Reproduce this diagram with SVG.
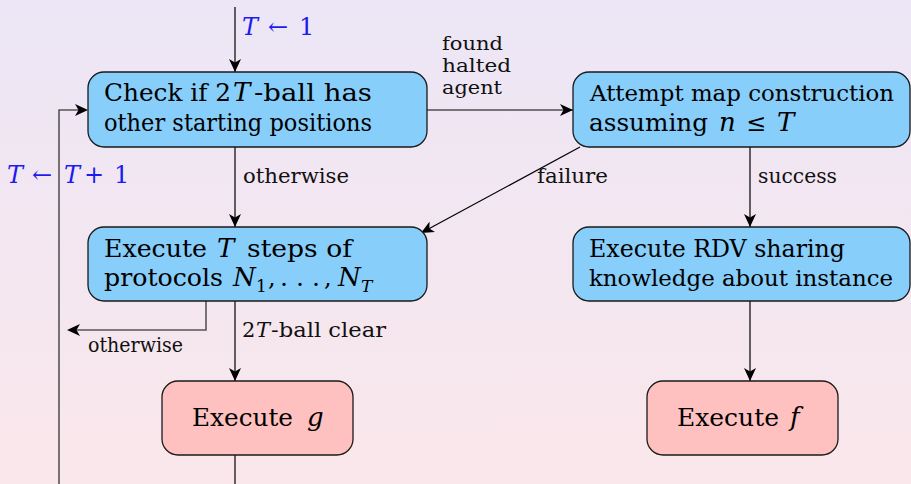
<svg xmlns="http://www.w3.org/2000/svg" width="911" height="484" viewBox="0 0 911 484">
  <defs>
    <linearGradient id="bg" x1="0" y1="0" x2="0" y2="1">
      <stop offset="0" stop-color="#ece6f6"/>
      <stop offset="1" stop-color="#fae7eb"/>
    </linearGradient>
    <marker id="arr" markerUnits="userSpaceOnUse" markerWidth="14" markerHeight="12" refX="13" refY="6" orient="auto">
      <path d="M0,0 L13,6 L0,12 L3.5,6 Z" fill="#000"/>
    </marker>
    <style>
      .blue { fill: #87cefa; stroke: #1a1a1a; stroke-width: 1.3; }
      .pink { fill: #ffc0c0; stroke: #1a1a1a; stroke-width: 1.3; }
      .nt { font-size: 24px; fill: #000; }
      .ns { font-size: 23px; fill: #000; }
      .mi { font-size: 26px; fill: #000; font-style: italic; }
      .sub { font-size: 17px; fill: #000; }
      .et { font-size: 21px; fill: #111; }
      .st { font-size: 18.5px; fill: #111; }
      .mt { font-size: 24px; fill: #1c1cf0; }
      .m { font-style: italic; }
      .edge { fill: none; stroke: #000; stroke-width: 1.2; }
      .loop { fill: none; stroke: #555; stroke-width: 1.6; }
    </style>
  </defs>

  <rect x="0" y="0" width="911" height="484" fill="url(#bg)"/>

  <g font-family="DejaVu Serif, Liberation Serif, Noto Serif, serif">
  <!-- connectors -->
  <g id="connectors">
    <line class="edge" x1="235" y1="7" x2="235" y2="72" marker-end="url(#arr)"/>
    <line class="edge" x1="235" y1="147" x2="235" y2="227" marker-end="url(#arr)"/>
    <line class="edge" x1="427" y1="110" x2="573" y2="110" marker-end="url(#arr)"/>
    <line class="edge" x1="580" y1="147" x2="421" y2="233" marker-end="url(#arr)"/>
    <line class="edge" x1="750" y1="147" x2="750" y2="227" marker-end="url(#arr)"/>
    <polyline class="loop" points="206,301 206,330 72,330"/>
    <path d="M67,330 L80,324 L76.5,330 L80,336 Z" fill="#000"/>
    <line class="edge" x1="235" y1="301" x2="235" y2="381" marker-end="url(#arr)"/>
    <line class="edge" x1="750" y1="301" x2="750" y2="381" marker-end="url(#arr)"/>
    <line class="edge" x1="235" y1="455" x2="235" y2="484"/>
    <polyline class="loop" points="59,484 59,110 80,110"/>
    <path d="M88,110 L75,104 L78.5,110 L75,116 Z" fill="#000"/>

    <!-- edge labels -->
    <text class="mt m" x="242" y="35">T</text>
    <text class="mt" x="268" y="35">←</text>
    <text class="mt" x="299" y="35">1</text>

    <text class="st" x="442" y="50" textLength="61" lengthAdjust="spacingAndGlyphs">found</text>
    <text class="st" x="442" y="72" textLength="69" lengthAdjust="spacingAndGlyphs">halted</text>
    <text class="st" x="442" y="94" textLength="60" lengthAdjust="spacingAndGlyphs">agent</text>

    <text class="et" x="243" y="183" textLength="106" lengthAdjust="spacingAndGlyphs">otherwise</text>
    <text class="et" x="537" y="183" textLength="71" lengthAdjust="spacingAndGlyphs">failure</text>
    <text class="et" x="758" y="183" textLength="79" lengthAdjust="spacingAndGlyphs">success</text>

    <text class="mt m" x="7" y="183">T</text>
    <text class="mt" x="32" y="183">←</text>
    <text class="mt m" x="64" y="183">T</text>
    <text class="mt" x="84" y="183">+</text>
    <text class="mt" x="114" y="183">1</text>

    <text class="et" x="242" y="337">2</text>
    <text class="et m" x="256" y="337">T</text>
    <text class="et" x="271" y="337" textLength="115" lengthAdjust="spacingAndGlyphs">-ball clear</text>

    <text class="et" x="88" y="352" textLength="95" lengthAdjust="spacingAndGlyphs">otherwise</text>
  </g>

  <g id="check">
    <rect class="blue" x="88" y="72" width="339" height="75" rx="16"/>
    <text class="nt" x="104" y="101" textLength="127" lengthAdjust="spacingAndGlyphs">Check if 2</text>
    <text class="mi" x="233" y="101">T</text>
    <text class="nt" x="254" y="101" textLength="118" lengthAdjust="spacingAndGlyphs">-ball has</text>
    <text class="nt" x="104" y="131" textLength="268" lengthAdjust="spacingAndGlyphs">other starting positions</text>
  </g>

  <g id="attempt">
    <rect class="blue" x="573" y="72" width="337" height="75" rx="16"/>
    <text class="ns" x="590" y="101" textLength="304" lengthAdjust="spacingAndGlyphs">Attempt map construction</text>
    <text class="nt" x="589" y="131" textLength="119" lengthAdjust="spacingAndGlyphs">assuming</text>
    <text class="mi" x="719" y="131">n</text>
    <text class="nt" x="746" y="131">≤</text>
    <text class="mi" x="777" y="131">T</text>
  </g>

  <g id="execsteps">
    <rect class="blue" x="88" y="227" width="339" height="74" rx="16"/>
    <text class="nt" x="104" y="257" textLength="103" lengthAdjust="spacingAndGlyphs">Execute</text>
    <text class="mi" x="217" y="257">T</text>
    <text class="nt" x="247" y="257" textLength="105" lengthAdjust="spacingAndGlyphs">steps of</text>
    <text class="nt" x="104" y="286" textLength="119" lengthAdjust="spacingAndGlyphs">protocols</text>
    <text class="mi" x="233" y="286">N</text>
    <text class="sub" x="256" y="292">1</text>
    <text class="nt" x="268" y="286">,</text>
    <text class="nt" x="280" y="286" textLength="40" lengthAdjust="spacingAndGlyphs">. . .</text>
    <text class="nt" x="324" y="286">,</text>
    <text class="mi" x="338" y="286">N</text>
    <text class="sub m" x="361" y="292">T</text>
  </g>

  <g id="rdv">
    <rect class="blue" x="573" y="227" width="337" height="74" rx="16"/>
    <text class="nt" x="589" y="257" textLength="256" lengthAdjust="spacingAndGlyphs">Execute RDV sharing</text>
    <text class="ns" x="589" y="286" textLength="304" lengthAdjust="spacingAndGlyphs">knowledge about instance</text>
  </g>

  <g id="execg">
    <rect class="pink" x="162" y="381" width="191" height="74" rx="16"/>
    <text class="nt" x="192" y="426" textLength="101" lengthAdjust="spacingAndGlyphs">Execute</text>
    <text class="mi" x="307" y="426">g</text>
  </g>

  <g id="execf">
    <rect class="pink" x="647" y="381" width="191" height="74" rx="16"/>
    <text class="nt" x="677" y="426" textLength="102" lengthAdjust="spacingAndGlyphs">Execute</text>
    <text class="mi" x="790" y="426">f</text>
  </g>
  </g>
</svg>
